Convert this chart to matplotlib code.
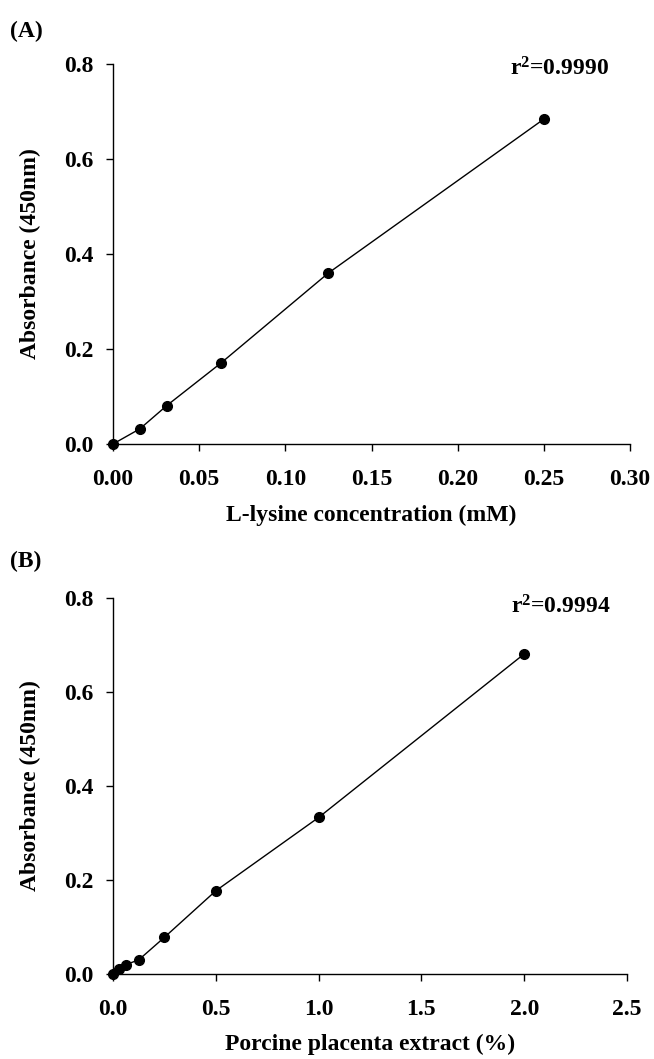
import matplotlib
matplotlib.use("Agg")
import matplotlib.pyplot as plt

# panel A: L-lysine standard curve
lysine_mm = [0.0, 0.015625, 0.03125, 0.0625, 0.125, 0.25]
lysine_abs = [0.0, 0.032, 0.081, 0.170, 0.360, 0.684]

# panel B: porcine placenta extract
extract_pct = [0.0, 0.03125, 0.0625, 0.125, 0.25, 0.5, 1.0, 2.0]
extract_abs = [0.0, 0.010, 0.020, 0.030, 0.078, 0.177, 0.333, 0.681]

x_ticks_a = [0.0, 0.05, 0.10, 0.15, 0.20, 0.25, 0.30]
x_ticks_b = [0.0, 0.5, 1.0, 1.5, 2.0, 2.5]
y_ticks = [0.0, 0.2, 0.4, 0.6, 0.8]

plt.rcParams['font.family'] = ['Liberation Serif', 'DejaVu Serif']
plt.rcParams['font.weight'] = 'bold'
plt.rcParams['mathtext.fontset'] = 'custom'
plt.rcParams['mathtext.rm'] = 'Liberation Serif:bold'
plt.rcParams['mathtext.bf'] = 'Liberation Serif:bold'
plt.rcParams['mathtext.it'] = 'Liberation Serif:bold'

FS = 17

W, H = 654, 1059
fig = plt.figure(figsize=(W / 100, H / 100), dpi=100)


def px_axes(left, top, right, bottom):
    return fig.add_axes([left / W, 1 - bottom / H, (right - left) / W, (bottom - top) / H])


def style(ax, xt, xfmt, xlim, xlabel):
    ax.set_xlim(*xlim)
    ax.set_ylim(0, 0.8)
    ax.spines['top'].set_visible(False)
    ax.spines['right'].set_visible(False)
    for s in ('left', 'bottom'):
        ax.spines[s].set_linewidth(1.0)
    ax.set_xticks(xt)
    ax.set_xticklabels([xfmt.format(v) for v in xt])
    ax.set_yticks(y_ticks)
    ax.set_yticklabels(['{:.1f}'.format(v) for v in y_ticks])
    ax.tick_params(axis='x', direction='out', length=5, width=1, pad=13, labelsize=FS)
    ax.tick_params(axis='y', direction='out', length=5, width=1, pad=9, labelsize=FS)
    for lab in ax.get_xticklabels() + ax.get_yticklabels():
        lab.set_fontweight('bold')
    ax.set_xlabel(xlabel, fontsize=FS, fontweight='bold')
    ax.set_ylabel('Absorbance (450nm)', fontsize=FS, fontweight='bold')
    ax.yaxis.set_label_coords(-0.14, 0.5)
    ax.xaxis.set_label_coords(0.5, -0.16)


ax1 = px_axes(113, 64, 630, 444)
ax1.plot(lysine_mm, lysine_abs, color='black', linewidth=1.0, marker='o',
         markersize=7, clip_on=False, zorder=3)
style(ax1, x_ticks_a, '{:.2f}', (0, 0.30), 'L-lysine concentration (mM)')
ax1.text(0.259, 0.79, r'r$^{2}$=0.9990', fontsize=FS, fontweight='bold',
         ha='center', va='center')

ax2 = px_axes(113, 598, 627, 974)
ax2.plot(extract_pct, extract_abs, color='black', linewidth=1.0, marker='o',
         markersize=7, clip_on=False, zorder=3)
style(ax2, x_ticks_b, '{:.1f}', (0, 2.5), 'Porcine placenta extract (%)')
ax2.text(2.18, 0.78, r'r$^{2}$=0.9994', fontsize=FS, fontweight='bold',
         ha='center', va='center')

fig.text(10 / W, 1 - 31 / H, '(A)', fontsize=FS, fontweight='bold', va='center', ha='left')
fig.text(10 / W, 1 - 561 / H, '(B)', fontsize=FS, fontweight='bold', va='center', ha='left')

fig.savefig('out.png', dpi=100)
